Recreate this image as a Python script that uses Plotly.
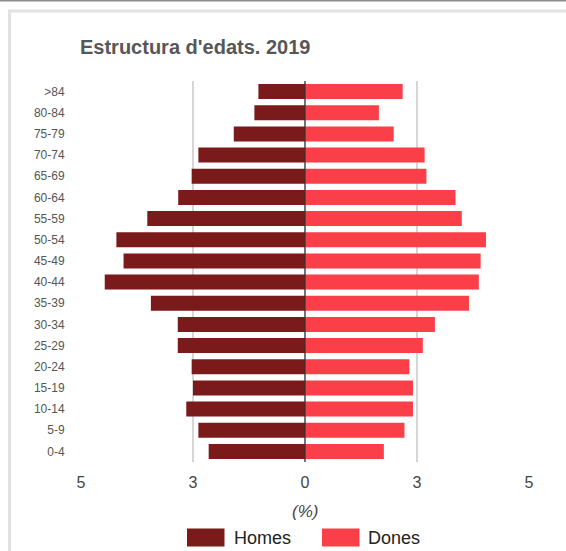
import plotly.graph_objects as go

# ---- data ----
age_groups = [">84", "80-84", "75-79", "70-74", "65-69", "60-64", "55-59", "50-54",
              "45-49", "40-44", "35-39", "30-34", "25-29", "20-24", "15-19",
              "10-14", "5-9", "0-4"]
homes = [1.04, 1.13, 1.59, 2.38, 2.53, 2.83, 3.52, 4.21, 4.05, 4.47, 3.44,
         2.84, 2.84, 2.53, 2.50, 2.65, 2.38, 2.15]
dones = [2.18, 1.65, 1.98, 2.67, 2.71, 3.36, 3.50, 4.04, 3.92, 3.88, 3.66,
         2.90, 2.63, 2.33, 2.41, 2.41, 2.22, 1.76]
series_names = ["Homes", "Dones"]
x_tickvals = [-5, -2.5, 0, 2.5, 5]
x_ticktext = ["5", "3", "0", "3", "5"]
title_text = "Estructura d'edats. 2019"
x_title = "(%)"

# ---- style ----
W, H = 566, 551
ML, MR, MT, MB = 81, 37, 81, 89
PW, PH = W - ML - MR, H - MT - MB
FONT = "Arial, 'Liberation Sans', sans-serif"
C_HOMES = "#7a1a1a"
C_DONES = "#fb3f48"


def px_x(x):
    return (x - ML) / PW


def px_y(y):
    return (H - MB - y) / PH


fig = go.Figure()
fig.add_trace(go.Bar(
    y=age_groups, x=[-v for v in homes], orientation="h", name=series_names[0],
    marker=dict(color=C_HOMES, line=dict(width=0)),
))
fig.add_trace(go.Bar(
    y=age_groups, x=dones, orientation="h", name=series_names[1],
    marker=dict(color=C_DONES, line=dict(width=0)),
))

shapes = [
    # outer frame decorations
    dict(type="line", xref="paper", yref="paper", x0=px_x(0), x1=px_x(W),
         y0=px_y(0.75), y1=px_y(0.75), line=dict(color="#8c8c8c", width=1.5)),
    dict(type="line", xref="paper", yref="paper", x0=px_x(8), x1=px_x(W),
         y0=px_y(11), y1=px_y(11), line=dict(color="#e2e2e2", width=3)),
    dict(type="line", xref="paper", yref="paper", x0=px_x(9.5), x1=px_x(9.5),
         y0=px_y(9.5), y1=px_y(H), line=dict(color="#e2e2e2", width=3)),
    # zero baseline
    dict(type="line", xref="x", yref="paper", x0=0, x1=0, y0=0, y1=1,
         line=dict(color="#333333", width=1.2), layer="above"),
]

annotations = [
    dict(text="<i>" + x_title + "</i>", xref="paper", yref="paper", x=px_x(305), y=px_y(511.5),
         showarrow=False, xanchor="center", yanchor="middle",
         font=dict(family=FONT, size=17, color="#444444")),
]

# custom legend
legend_items = [(series_names[0], C_HOMES, 187, 231.5), (series_names[1], C_DONES, 322, 366)]
for name, col, bx, tx in legend_items:
    shapes.append(dict(type="rect", xref="paper", yref="paper",
                       x0=px_x(bx), x1=px_x(bx + 37.5), y0=px_y(528.5), y1=px_y(546.5),
                       fillcolor=col, line=dict(width=0)))
    annotations.append(dict(text=name, xref="paper", yref="paper", x=px_x(tx), y=px_y(537.5),
                            showarrow=False, xanchor="left", yanchor="middle",
                            font=dict(family=FONT, size=18, color="#222222")))

fig.update_layout(
    width=W, height=H,
    margin=dict(l=ML, r=MR, t=MT, b=MB, pad=0),
    paper_bgcolor="white", plot_bgcolor="white",
    barmode="relative", bargap=0.29,
    showlegend=False,
    title=dict(text="<b>" + title_text + "</b>", x=80 / W, xref="container", xanchor="left",
               y=1 - 46.5 / H, yref="container", yanchor="middle",
               font=dict(family=FONT, size=20, color="#575757")),
    font=dict(family=FONT),
    shapes=shapes,
    annotations=annotations,
    xaxis=dict(range=[-5, 5], tickvals=x_tickvals, ticktext=x_ticktext,
               showgrid=True, gridcolor="#d6d6d6", gridwidth=1.6, zeroline=False,
               ticks="outside", ticklen=6, tickcolor="rgba(0,0,0,0)",
               tickfont=dict(family=FONT, size=16, color="#444444"),
               showline=False, fixedrange=True),
    yaxis=dict(autorange="reversed", showgrid=False, zeroline=False, showline=False,
               ticks="outside", ticklen=13, tickcolor="rgba(0,0,0,0)",
               tickfont=dict(family=FONT, size=12, color="#555555"),
               fixedrange=True),
)

fig.write_html("out.html", config={"displayModeBar": False},
               post_script="document.body.style.margin='0';document.body.style.overflow='hidden';")
